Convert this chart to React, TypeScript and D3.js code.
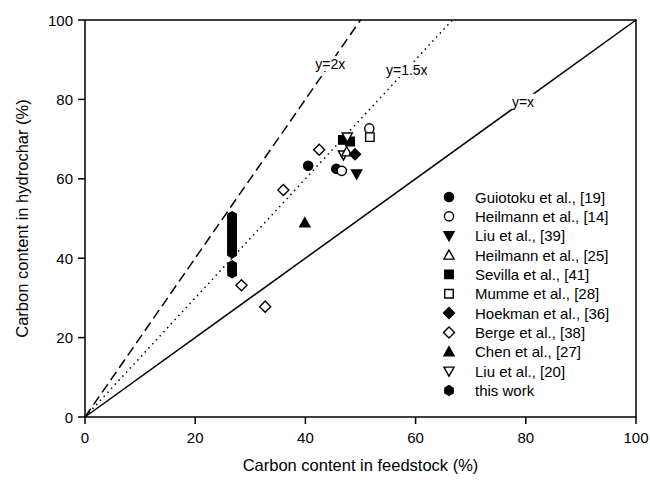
import React from "react";
import * as d3 from "d3";

const xTicks = [0, 20, 40, 60, 80, 100];
const yTicks = [0, 20, 40, 60, 80, 100];

const guiotoku = [[40.5, 63.3], [45.6, 62.5]];
const heilmann14 = [[46.6, 62.0], [51.6, 72.7]];
const liu39 = [[49.3, 61.2]];
const heilmann25 = [[47.5, 66.8]];
const sevilla = [[46.8, 69.8], [48.1, 69.4]];
const mumme = [[51.7, 70.5]];
const hoekman = [[49.0, 66.2]];
const berge = [[42.5, 67.3], [36.0, 57.2], [28.4, 33.2], [32.7, 27.8]];
const chen = [[39.9, 48.9]];
const liu20 = [[47.6, 70.5], [46.9, 66.0]];
const thisWorkX = 26.7;
const thisWorkY = [50.5, 49.7, 48.9, 48.1, 47.3, 46.5, 45.7, 44.9, 44.1, 43.3, 42.5, 41.7, 41.3, 38.1, 37.2, 36.3];

const seriesNames = [
  "Guiotoku et al., [19]",
  "Heilmann et al., [14]",
  "Liu et al., [39]",
  "Heilmann et al., [25]",
  "Sevilla et al., [41]",
  "Mumme et al., [28]",
  "Hoekman et al., [36]",
  "Berge et al., [38]",
  "Chen et al., [27]",
  "Liu et al., [20]",
  "this work",
];
const seriesShapes = ["circle", "circle", "tridown", "triup", "square", "square", "diamond", "diamond", "triup", "tridown", "hexagon"];
const seriesFilled = [true, false, true, false, true, false, true, false, true, false, true];

const refLines = [
  { slope: 1, label: "y=x", dash: "none", lx: 79.5, ly: 79.4 },
  { slope: 1.5, label: "y=1.5x", dash: "1.5,4", lx: 58.4, ly: 87.4 },
  { slope: 2, label: "y=2x", dash: "10,5", lx: 44.5, ly: 88.9 },
];

const W = 650, H = 481;
const L = 85, R = 636, T = 20, B = 417;

function shapePath(shape: string, s: number): string {
  switch (shape) {
    case "circle": {
      const r = s;
      return `M${-r},0A${r},${r} 0 1,0 ${r},0A${r},${r} 0 1,0 ${-r},0Z`;
    }
    case "square": {
      const a = s * 0.92;
      return `M${-a},${-a}H${a}V${a}H${-a}Z`;
    }
    case "diamond": {
      const a = s * 1.2;
      return `M0,${-a}L${a},0L0,${a}L${-a},0Z`;
    }
    case "triup": {
      const a = s * 1.1;
      return `M0,${-a}L${a},${a * 0.8}L${-a},${a * 0.8}Z`;
    }
    case "tridown": {
      const a = s * 1.1;
      return `M0,${a}L${a},${-a * 0.8}L${-a},${-a * 0.8}Z`;
    }
    case "hexagon": {
      const pts = d3.range(6).map((i) => {
        const ang = Math.PI / 2 + (i * Math.PI) / 3;
        return [s * 1.05 * Math.cos(ang), s * 1.05 * Math.sin(ang)];
      });
      return "M" + pts.map((p) => p.join(",")).join("L") + "Z";
    }
  }
  return "";
}

export default function App() {
  const x = d3.scaleLinear().domain([0, 100]).range([L, R]);
  const y = d3.scaleLinear().domain([0, 100]).range([B, T]);
  const font = "'Liberation Sans', Arial, sans-serif";

  const allData: number[][][] = [
    guiotoku, heilmann14, liu39, heilmann25, sevilla, mumme, hoekman, berge, chen, liu20,
    thisWorkY.map((v) => [thisWorkX, v]),
  ];
  const drawOrder = [10, 7, 8, 0, 1, 4, 9, 2, 5, 3, 6];
  const ms = 4.6;

  return (
    <svg width={W} height={H} style={{ position: "absolute", left: 0, top: 0, background: "#fff" }} fontFamily={font}>
      <rect x={0} y={0} width={W} height={H} fill="#fff" />
      {refLines.map((rl, i) => {
        const xe = Math.min(100, 100 / rl.slope);
        return (
          <line key={i} x1={x(0)} y1={y(0)} x2={x(xe)} y2={y(xe * rl.slope)} stroke="#000"
            strokeWidth={rl.dash === "1.5,4" ? 1.5 : 1.5} strokeDasharray={rl.dash} />
        );
      })}
      {refLines.map((rl, i) => (
        <g key={"l" + i}>
          <rect x={x(rl.lx) - rl.label.length * 3.9} y={y(rl.ly) - 8} width={rl.label.length * 7.8} height={15} fill="#fff" />
          <text x={x(rl.lx)} y={y(rl.ly) + 5} textAnchor="middle" fontSize={14} fill="#000">{rl.label}</text>
        </g>
      ))}
      {drawOrder.map((si) =>
        allData[si].map((d, j) => (
          <path key={si + "-" + j} d={shapePath(seriesShapes[si], ms)} transform={`translate(${x(d[0])},${y(d[1])})`}
            fill={seriesFilled[si] ? "#000" : "#fff"} stroke="#000" strokeWidth={1.4} />
        ))
      )}
      <rect x={L} y={T} width={R - L} height={B - T} fill="none" stroke="#000" strokeWidth={1.5} />
      {xTicks.map((t) => (
        <g key={"x" + t}>
          <line x1={x(t)} x2={x(t)} y1={B} y2={B + 7} stroke="#000" strokeWidth={1.5} />
          <text x={x(t)} y={B + 26} textAnchor="middle" fontSize={15} fill="#000">{t}</text>
        </g>
      ))}
      {yTicks.map((t) => (
        <g key={"y" + t}>
          <line x1={L - 7} x2={L} y1={y(t)} y2={y(t)} stroke="#000" strokeWidth={1.5} />
          <text x={L - 12} y={y(t) + 5.5} textAnchor="end" fontSize={15} fill="#000">{t}</text>
        </g>
      ))}
      <text x={(L + R) / 2} y={471} textAnchor="middle" fontSize={16.5} fill="#000">Carbon content in feedstock (%)</text>
      <text transform={`translate(28,${(T + B) / 2}) rotate(-90)`} textAnchor="middle" fontSize={16.5} fill="#000">Carbon content in hydrochar (%)</text>
      {seriesNames.map((n, i) => (
        <g key={"lg" + i} transform={`translate(449,${197 + i * 19.35})`}>
          <path d={shapePath(seriesShapes[i], ms)} fill={seriesFilled[i] ? "#000" : "#fff"} stroke="#000" strokeWidth={1.4} />
          <text x={26} y={5.5} fontSize={15} fill="#000">{n}</text>
        </g>
      ))}
    </svg>
  );
}
